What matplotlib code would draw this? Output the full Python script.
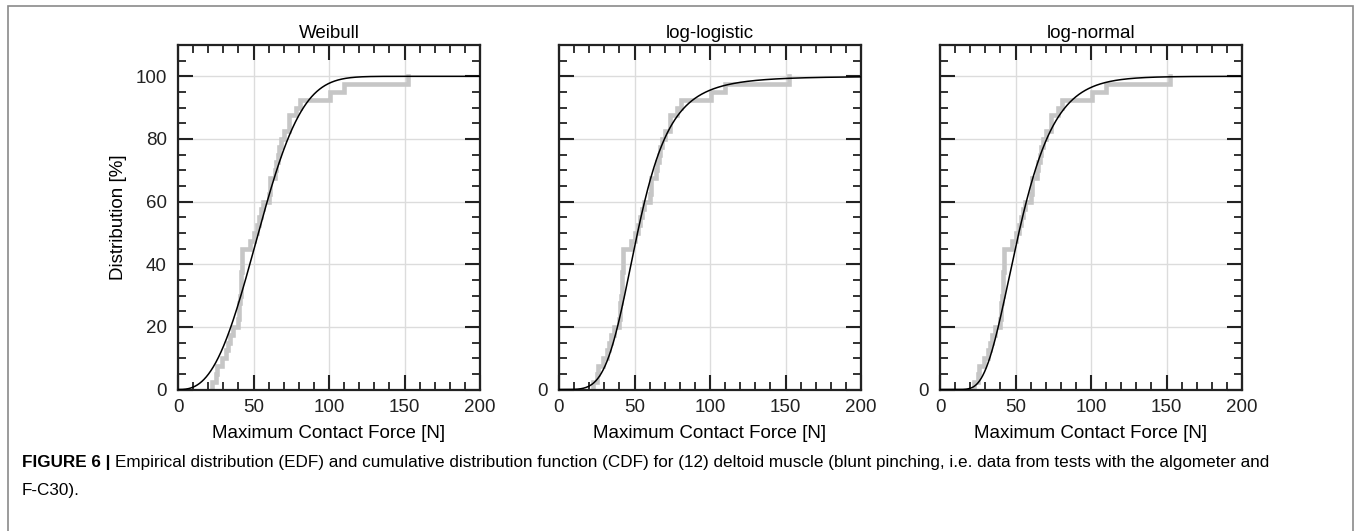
import math
import numpy as np
import matplotlib
matplotlib.use("Agg")
import matplotlib.pyplot as plt
from matplotlib.patches import Rectangle
from matplotlib.ticker import MultipleLocator

plt.rcParams['font.family'] = ['Liberation Sans', 'DejaVu Sans']

# maximum contact force of each test [N] (40 tests)
forces = [22.4, 25.3, 25.6, 29.0, 31.8, 33.0, 34.5, 36.7, 39.5, 40.2,
          40.6, 41.0, 41.4, 41.7, 42.0, 42.2, 42.4, 42.6, 47.9, 50.5,
          52.5, 53.5, 55.0, 56.0, 60.5, 60.8, 61.1, 64.0, 65.0, 66.0,
          67.0, 68.0, 70.0, 73.3, 73.6, 78.0, 81.0, 100.4, 109.7, 152.0]

titles = ['Weibull', 'log-logistic', 'log-normal']

# fitted distribution parameters (estimated from the curves)
weibull_shape, weibull_scale = 2.7, 61.0
loglog_shape, loglog_scale = 4.7, 52.0
lognorm_mu, lognorm_sigma = math.log(52.2), 0.36

x_ticks = [0, 50, 100, 150, 200]
y_ticks = [0, 20, 40, 60, 80, 100]

caption_bold = 'FIGURE 6 | '
caption_line1 = ('Empirical distribution (EDF) and cumulative distribution function (CDF) '
                 'for (12) deltoid muscle (blunt pinching, i.e. data from tests with the algometer and')
caption_line2 = 'F-C30).'


def cdf(name, x):
    if name == 'Weibull':
        return 1 - np.exp(-(x / weibull_scale) ** weibull_shape)
    if name == 'log-logistic':
        r = (x / loglog_scale) ** loglog_shape
        return r / (1 + r)
    z = (np.log(np.maximum(x, 1e-9)) - lognorm_mu) / (lognorm_sigma * math.sqrt(2))
    return 0.5 * (1 + np.vectorize(math.erf)(z))


fig = plt.figure(figsize=(13.54, 5.31), dpi=100)

# edf steps
xs = np.sort(np.array(forces))
n = len(xs)
edf_x = np.repeat(xs, 2)
edf_y = np.empty(2 * n)
edf_y[0::2] = np.arange(n) / n * 100
edf_y[1::2] = np.arange(1, n + 1) / n * 100

xx = np.linspace(0, 200, 801)
lefts = [178, 559, 940]
for i, name in enumerate(titles):
    ax = fig.add_axes([lefts[i] / 1354, 1 - 389.5 / 531, 302 / 1354, 344.5 / 531])
    ax.grid(True, which='major', color='#dcdcdc', lw=1.0, zorder=0)
    ax.plot(edf_x, edf_y, color='#c6c6c6', lw=3.3, solid_joinstyle='miter', zorder=2)
    ax.plot(xx, cdf(name, xx) * 100, color='black', lw=1.1, zorder=3)
    ax.set_xlim(0, 200)
    ax.set_ylim(0, 110)
    ax.set_xticks(x_ticks)
    ax.set_yticks(y_ticks)
    ax.xaxis.set_minor_locator(MultipleLocator(10))
    ax.yaxis.set_minor_locator(MultipleLocator(5))
    if i > 0:
        ax.set_yticklabels(['0'] + [''] * (len(y_ticks) - 1))
    else:
        ax.set_ylabel('Distribution [%]', fontsize=13.5, labelpad=6)
    ax.set_xlabel('Maximum Contact Force [N]', fontsize=13.5, labelpad=6)
    ax.set_title(name, fontsize=13.5, pad=5)
    ax.tick_params(which='both', direction='in', top=True, right=True,
                   color='#222222', labelsize=13.5, labelcolor='#222222')
    ax.tick_params(which='major', length=11, width=1.5)
    ax.tick_params(which='minor', length=5.5, width=1.3)
    ax.tick_params(axis='x', pad=7)
    ax.tick_params(axis='y', pad=8)
    for s in ax.spines.values():
        s.set_linewidth(1.6)
        s.set_color('#222222')

# outer frame
fig.patches.append(Rectangle((8 / 1354, -0.05), 1345 / 1354, 1 - 6 / 531 + 0.05,
                             transform=fig.transFigure, fill=False,
                             edgecolor='#8a8a8a', lw=1.2, clip_on=False))

# caption
y1 = 1 - 463 / 531
y2 = 1 - 490 / 531
t = fig.text(22 / 1354, y1, caption_bold, fontsize=12.3, fontweight='bold', va='center')
fig.canvas.draw()
bb = t.get_window_extent(renderer=fig.canvas.get_renderer())
fig.text(bb.x1 / 1354, y1, caption_line1, fontsize=12.3, va='center')
fig.text(22 / 1354, y2, caption_line2, fontsize=12.3, va='center')

fig.savefig('out.png', dpi=100)
